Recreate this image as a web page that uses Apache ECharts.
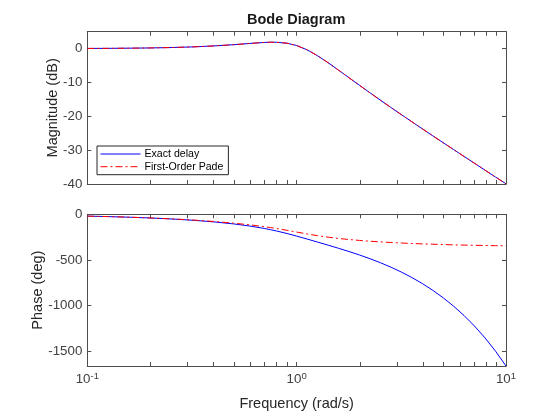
<!DOCTYPE html>
<html>
<head>
<meta charset="utf-8">
<script src="https://cdn.jsdelivr.net/npm/echarts@6/dist/echarts.min.js"></script>
<style>html,body{margin:0;padding:0;background:#fff}#c{width:560px;height:420px}</style>
</head>
<body>
<div id="c"></div>
<script>
// Frequencies (rad/s)
const freq = [0.1, 0.1259, 0.1585, 0.1995, 0.2512, 0.3162, 0.3981, 0.5, 0.6, 0.7, 0.75, 0.8, 0.9, 1.0, 1.122, 1.259, 1.413, 1.585, 1.778, 1.995, 2.239, 2.512, 2.818, 3.162, 3.548, 3.981, 4.467, 5.012, 5.623, 6.310, 7.079, 7.943, 8.913, 10];
// Magnitude (dB)
const magExact = [0.05, 0.08, 0.13, 0.20, 0.32, 0.50, 0.78, 1.16, 1.54, 1.82, 1.89, 1.88, 1.60, 0.92, -0.36, -2.11, -4.16, -6.36, -8.60, -10.83, -13.04, -15.23, -17.38, -19.50, -21.60, -23.68, -25.75, -27.80, -29.84, -31.87, -33.90, -35.92, -37.94, -39.95];
const magPade = [0.05, 0.08, 0.13, 0.20, 0.32, 0.50, 0.78, 1.16, 1.54, 1.82, 1.89, 1.88, 1.60, 0.92, -0.36, -2.11, -4.16, -6.36, -8.60, -10.83, -13.04, -15.23, -17.38, -19.50, -21.60, -23.68, -25.75, -27.80, -29.84, -31.87, -33.90, -35.92, -37.94, -39.95];
// Phase (deg)
const phaseExact = [-20.09, -25.32, -31.93, -40.31, -50.99, -64.65, -82.37, -105.44, -129.54, -155.29, -168.78, -182.62, -210.87, -238.97, -271.52, -304.85, -338.54, -372.78, -408.37, -446.13, -486.87, -531.14, -579.74, -633.49, -693.14, -759.48, -833.46, -916.04, -1008.27, -1111.67, -1227.16, -1356.69, -1501.92, -1664.50];
const phasePade = [-20.00, -25.16, -31.61, -39.67, -49.74, -62.25, -77.80, -97.01, -116.07, -135.62, -145.60, -155.69, -175.75, -194.86, -215.51, -234.45, -250.93, -264.88, -276.69, -286.77, -295.40, -302.88, -309.40, -315.10, -320.14, -324.56, -328.48, -331.96, -335.04, -337.78, -340.21, -342.37, -344.30, -346.01];
// Axis settings
const seriesNames = ['Exact delay', 'First-Order Pade'];
const minorTickValues = [0.2, 0.3, 0.4, 0.5, 0.6, 0.7, 0.8, 0.9, 2, 3, 4, 5, 6, 7, 8, 9];
const freqRange = [0.1, 10];
const magRange = [-40, 5];
const phaseRange = [-1664.5, 0];

const FONT = "'Liberation Sans', Arial, Helvetica, sans-serif";
const AX = '#4d4d4d';
const TXT = '#262626';
const LBL = '#404040';

const pairs = (xs, ys) => xs.map((x, i) => [x, ys[i]]);

function xAx(gridIndex, position, showLabels, name) {
  return {
    type: 'log', logBase: 10, gridIndex, position,
    min: freqRange[0], max: freqRange[1],
    axisLine: {show: true, onZero: false, lineStyle: {color: AX, width: 1}},
    axisTick: {show: true, inside: true, length: 4, lineStyle: {color: AX}},
    splitLine: {show: false},
    minorTick: {show: false},
    axisLabel: {
      show: showLabels, margin: 5, color: LBL, fontFamily: FONT,
      formatter: v => '{b|10}{s|' + Math.round(Math.log10(v)) + '}',
      rich: {
        b: {fontSize: 13.3, fontFamily: FONT, color: LBL},
        s: {fontSize: 9.5, fontFamily: FONT, color: LBL, padding: [0, 0, 7, 0]}
      }
    },
    name: name || '', nameLocation: 'middle', nameGap: 30, nameMoveOverlap: false,
    nameTextStyle: {fontSize: 14.5, fontFamily: FONT, color: TXT}
  };
}
function yAx(gridIndex, position, range, interval, showLabels, name, nameGap, labelExtra, extra) {
  const a = {
    type: 'value', gridIndex, position, min: range[0], max: range[1],
    axisLine: {show: true, onZero: false, lineStyle: {color: AX, width: 1}},
    axisTick: {show: true, inside: true, length: 4, lineStyle: {color: AX}},
    splitLine: {show: false},
    axisLabel: Object.assign({show: showLabels, margin: 5, fontSize: 13.3, fontFamily: FONT, color: LBL,
      formatter: v => String(v)}, labelExtra || {}),
    name: name || '', nameLocation: 'middle', nameGap: nameGap || 0, nameMoveOverlap: false,
    nameTextStyle: {fontSize: 14.5, fontFamily: FONT, color: TXT}
  };
  if (interval) a.interval = interval;
  return Object.assign(a, extra || {});
}

function minorTickSeries(xi, yi, yVal) {
  return {
    type: 'custom', xAxisIndex: xi, yAxisIndex: yi, silent: true, clip: false,
    data: minorTickValues.map(v => [v, yVal]),
    renderItem: (params, api) => {
      const cs = params.coordSys;
      const px = Math.round(api.coord([api.value(0), api.value(1)])[0]) + 0.5;
      const st = {stroke: AX, lineWidth: 1};
      const b = cs.y + cs.height, t = cs.y;
      return {type: 'group', children: [
        {type: 'line', shape: {x1: px, y1: b, x2: px, y2: b - 4}, style: st},
        {type: 'line', shape: {x1: px, y1: t, x2: px, y2: t + 4}, style: st}
      ]};
    },
    z: 1
  };
}

const chart = echarts.init(document.getElementById('c'), null, {renderer: 'canvas'});
chart.setOption({
  animation: false,
  backgroundColor: '#fff',
  title: {text: 'Bode Diagram', left: 247, top: 12, padding: 0,
    textStyle: {fontSize: 14.5, fontWeight: 'bold', fontFamily: FONT, color: '#1a1a1a'}},
  legend: {
    data: seriesNames, orient: 'vertical', left: 97, top: 146,
    itemWidth: 40, itemHeight: 10, itemGap: 1.7,
    padding: [2.5, 5, 2.5, 3],
    backgroundColor: '#fff', borderColor: '#262626', borderWidth: 1, borderRadius: 0,
    itemStyle: {opacity: 0},
    lineStyle: {width: 1},
    textStyle: {fontSize: 10.6, fontFamily: FONT, color: '#000', padding: [0, 0, 0, -1]}
  },
  grid: [
    {left: 87.3, top: 31.7, width: 418.7, height: 152.3},
    {left: 87.3, top: 214.3, width: 418.7, height: 151.7}
  ],
  xAxis: [
    xAx(0, 'bottom', false),
    xAx(0, 'top', false),
    xAx(1, 'bottom', true, 'Frequency (rad/s)'),
    xAx(1, 'top', false)
  ],
  yAxis: [
    yAx(0, 'left', magRange, 10, true, 'Magnitude (dB)', 27, {showMaxLabel: false}),
    yAx(0, 'right', magRange, 10, false),
    yAx(1, 'left', phaseRange, null, true, 'Phase (deg)', 41.5, {showMinLabel: false}, {splitNumber: 3}),
    yAx(1, 'right', phaseRange, null, false, '', 0, null, {splitNumber: 3})
  ],
  series: [
    {name: seriesNames[0], type: 'line', xAxisIndex: 0, yAxisIndex: 0, data: pairs(freq, magExact),
      symbol: 'none', lineStyle: {color: '#0000ff', width: 1}, itemStyle: {color: '#0000ff'}, z: 3},
    {name: seriesNames[1], type: 'line', xAxisIndex: 0, yAxisIndex: 0, data: pairs(freq, magPade),
      symbol: 'none', lineStyle: {color: '#ff0000', width: 1, type: [7, 3, 2, 3]}, itemStyle: {color: '#ff0000'}, z: 4},
    {name: seriesNames[0], type: 'line', xAxisIndex: 2, yAxisIndex: 2, data: pairs(freq, phaseExact),
      symbol: 'none', lineStyle: {color: '#0000ff', width: 1}, itemStyle: {color: '#0000ff'}, z: 3},
    {name: seriesNames[1], type: 'line', xAxisIndex: 2, yAxisIndex: 2, data: pairs(freq, phasePade),
      symbol: 'none', lineStyle: {color: '#ff0000', width: 1, type: [7, 3, 2, 3]}, itemStyle: {color: '#ff0000'}, z: 4},
    minorTickSeries(0, 0, magRange[0]),
    minorTickSeries(2, 2, phaseRange[0])
  ]
});
</script>
</body>
</html>
